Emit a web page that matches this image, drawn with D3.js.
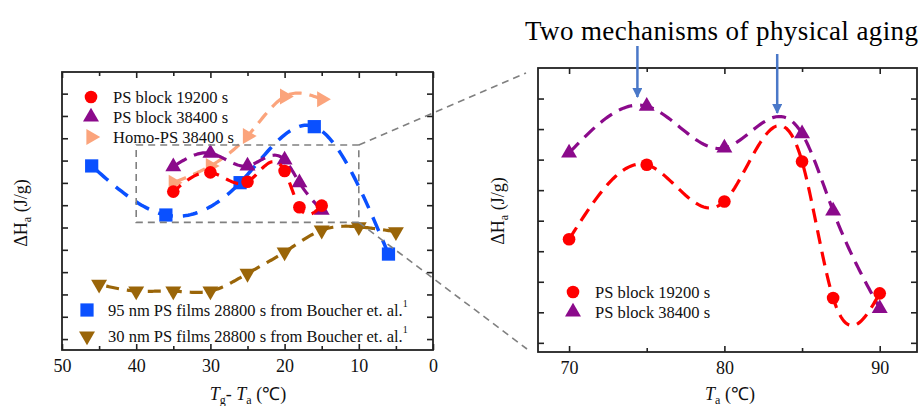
<!DOCTYPE html>
<html>
<head>
<meta charset="utf-8">
<script src="https://cdn.jsdelivr.net/npm/d3@7"></script>
<style>
  body { margin: 0; background: #fff; }
  svg { display: block; font-family: "Liberation Serif", "Times New Roman", serif; }
</style>
</head>
<body>
<script>
// ---- left panel data (Tg - Ta, arbitrary ΔHa units) ----
const blockTg = [35, 30, 25, 20, 18, 15];
const block19200 = [6.61, 7.47, 7.05, 7.53, 5.91, 5.98];
const block38400 = [7.73, 8.33, 7.76, 8.03, 7.01, 5.78];
const homoTg = [35, 30, 25, 20, 15];
const homo38400 = [7.01, 7.76, 9.10, 10.87, 10.75];
const film95Tg = [46, 36, 26, 16, 6];
const film95 = [7.76, 5.56, 7.01, 9.52, 3.81];
const film30Tg = [45, 40, 35, 30, 25, 20, 15, 10, 5];
const film30 = [2.45, 2.15, 2.15, 2.15, 2.94, 3.90, 4.88, 5.03, 4.81];
const zoomBoxX = [40, 10];
const zoomBoxY = [5.23, 8.70];

// ---- right panel data (Ta) ----
const ta = [70, 75, 80, 85, 87, 90];
const zoom19200 = [3.39, 5.83, 4.63, 5.94, 1.47, 1.62];
const zoom38400 = [6.22, 7.75, 6.38, 6.85, 4.32, 1.13];
const arrowTa = [74.4, 83.4];

const leftXTicks = [50, 40, 30, 20, 10, 0];
const rightXTicks = [70, 80, 90];

const width = 921, height = 406;
const svg = d3.select('body').append('svg')
  .attr('width', width)
  .attr('height', height);

const L = { left: 62, right: 433, top: 72, bottom: 350 };
const R = { left: 538, right: 917, top: 68, bottom: 352 };

const xL = d3.scaleLinear().domain([50, 0]).range([L.left, L.right]);
const yL = d3.scaleLinear().domain([-0.49, 11.97]).range([L.bottom, L.top]);
const xR = d3.scaleLinear().domain([68, 92.4]).range([R.left, R.right]);
const yR = d3.scaleLinear().domain([-0.3, 9]).range([R.bottom, R.top]);

const colors = {
  red: '#ff0000',
  purple: '#8b0a8b',
  orange: '#fba47c',
  blue: '#0a50ff',
  brown: '#9a6508',
  arrow: '#4a78c8',
  grey: '#808080'
};

svg.append('defs').selectAll('clipPath')
  .data([['clipL', L], ['clipR', R]])
  .enter().append('clipPath')
  .attr('id', (d) => d[0])
  .append('rect')
  .attr('x', (d) => d[1].left)
  .attr('y', (d) => d[1].top)
  .attr('width', (d) => d[1].right - d[1].left)
  .attr('height', (d) => d[1].bottom - d[1].top);

function drawAxes(box, x, y, xMajor, xMinor, yTicks) {
  const g = svg.append('g');
  const style = (a) => {
    a.select('.domain').remove();
    a.selectAll('line').attr('stroke', '#222').attr('stroke-width', 1.6);
  };
  g.append('g')
    .attr('transform', `translate(0, ${box.bottom})`)
    .call(d3.axisBottom(x).tickValues(xMajor).tickSizeInner(-6).tickSizeOuter(0).tickPadding(9).tickFormat(d3.format('d')))
    .call(style)
    .call((a) => a.selectAll('text').attr('font-size', 18).attr('fill', '#111').attr('font-family', 'Liberation Serif'));
  g.append('g')
    .attr('transform', `translate(0, ${box.bottom})`)
    .call(d3.axisBottom(x).tickValues(xMinor).tickSizeInner(-4).tickSizeOuter(0).tickFormat(''))
    .call(style);
  g.append('g')
    .attr('transform', `translate(0, ${box.top})`)
    .call(d3.axisTop(x).tickValues(xMajor).tickSizeInner(-6).tickSizeOuter(0).tickFormat(''))
    .call(style);
  g.append('g')
    .attr('transform', `translate(0, ${box.top})`)
    .call(d3.axisTop(x).tickValues(xMinor).tickSizeInner(-4).tickSizeOuter(0).tickFormat(''))
    .call(style);
  g.append('g')
    .attr('transform', `translate(${box.left}, 0)`)
    .call(d3.axisLeft(y).tickValues(yTicks).tickSizeInner(-6).tickSizeOuter(0).tickFormat(''))
    .call(style);
  g.append('g')
    .attr('transform', `translate(${box.right}, 0)`)
    .call(d3.axisRight(y).tickValues(yTicks).tickSizeInner(-6).tickSizeOuter(0).tickFormat(''))
    .call(style);
  g.append('rect')
    .attr('x', box.left).attr('y', box.top)
    .attr('width', box.right - box.left).attr('height', box.bottom - box.top)
    .attr('fill', 'none').attr('stroke', '#222').attr('stroke-width', 1.8);
}

drawAxes(L, xL, yL, leftXTicks, [45, 35, 25, 15, 5], d3.range(0, 12));
drawAxes(R, xR, yR, rightXTicks, [75, 85], d3.range(0, 9));

const symbols = {
  circle: { type: d3.symbolCircle, size: 125, rot: 0 },
  up: { type: d3.symbolTriangle, size: 110, rot: 0 },
  right: { type: d3.symbolTriangle, size: 110, rot: 90 },
  down: { type: d3.symbolTriangle, size: 110, rot: 180 },
  square: { type: d3.symbolSquare, size: 175, rot: 0 }
};

// natural cubic spline y(x) through the data points, used only to draw the smooth dashed line
function splinePath(xs, ys) {
  const pts = xs.map((d, i) => [d, ys[i]]).sort((a, b) => a[0] - b[0]);
  const n = pts.length;
  const h = d3.range(n - 1).map((i) => pts[i + 1][0] - pts[i][0]);
  const m = new Array(n).fill(0);
  if (n > 2) {
    const a = [], b = [], c = [], r = [];
    for (let i = 1; i < n - 1; i++) {
      a.push(h[i - 1]);
      b.push(2 * (h[i - 1] + h[i]));
      c.push(h[i]);
      r.push(6 * ((pts[i + 1][1] - pts[i][1]) / h[i] - (pts[i][1] - pts[i - 1][1]) / h[i - 1]));
    }
    const k = b.length;
    for (let i = 1; i < k; i++) {
      const w = a[i] / b[i - 1];
      b[i] -= w * c[i - 1];
      r[i] -= w * r[i - 1];
    }
    const sol = new Array(k);
    sol[k - 1] = r[k - 1] / b[k - 1];
    for (let i = k - 2; i >= 0; i--) sol[i] = (r[i] - c[i] * sol[i + 1]) / b[i];
    for (let i = 0; i < k; i++) m[i + 1] = sol[i];
  }
  const out = [];
  for (let i = 0; i < n - 1; i++) {
    const steps = 30;
    for (let s = 0; s <= steps; s++) {
      if (i > 0 && s === 0) continue;
      const t = s / steps;
      const xv = pts[i][0] + t * h[i];
      const A = 1 - t, B = t;
      const yv = A * pts[i][1] + B * pts[i + 1][1] +
        ((A * A * A - A) * m[i] + (B * B * B - B) * m[i + 1]) * h[i] * h[i] / 6;
      out.push([xv, yv]);
    }
  }
  return out;
}

function drawSeries(xs, ys, x, y, color, sym, dash, lw, clip) {
  const pts = xs.map((d, i) => [d, ys[i]]);
  const line = d3.line().x((d) => x(d[0])).y((d) => y(d[1]));
  svg.append('path')
    .datum(splinePath(xs, ys))
    .attr('clip-path', `url(#${clip})`)
    .attr('d', line)
    .attr('fill', 'none')
    .attr('stroke', color)
    .attr('stroke-width', lw)
    .attr('stroke-dasharray', dash);
  const s = symbols[sym];
  svg.append('g').selectAll('path')
    .data(pts)
    .enter().append('path')
    .attr('d', d3.symbol().type(s.type).size(s.size))
    .attr('transform', (d) => `translate(${x(d[0])}, ${y(d[1])}) rotate(${s.rot})`)
    .attr('fill', color);
}

// left panel
drawSeries(film95Tg, film95, xL, yL, colors.blue, 'square', '15,10', 3.5, 'clipL');
drawSeries(film30Tg, film30, xL, yL, colors.brown, 'down', '13,8', 3.2, 'clipL');
drawSeries(homoTg, homo38400, xL, yL, colors.orange, 'right', '13,8', 3.2, 'clipL');
drawSeries(blockTg, block38400, xL, yL, colors.purple, 'up', '13,8', 3.2, 'clipL');
drawSeries(blockTg, block19200, xL, yL, colors.red, 'circle', '13,8', 3.2, 'clipL');

// zoom box and connectors
svg.append('rect')
  .attr('x', xL(zoomBoxX[0])).attr('y', yL(zoomBoxY[1]))
  .attr('width', xL(zoomBoxX[1]) - xL(zoomBoxX[0]))
  .attr('height', yL(zoomBoxY[0]) - yL(zoomBoxY[1]))
  .attr('fill', 'none').attr('stroke', colors.grey)
  .attr('stroke-width', 1.6).attr('stroke-dasharray', '7,5');
svg.append('line')
  .attr('x1', xL(zoomBoxX[1])).attr('y1', yL(zoomBoxY[1]))
  .attr('x2', R.left - 12).attr('y2', R.top + 5)
  .attr('stroke', colors.grey).attr('stroke-width', 1.6).attr('stroke-dasharray', '7,5');
svg.append('line')
  .attr('x1', xL(zoomBoxX[1])).attr('y1', yL(zoomBoxY[0]))
  .attr('x2', R.left - 11).attr('y2', R.bottom - 3)
  .attr('stroke', colors.grey).attr('stroke-width', 1.6).attr('stroke-dasharray', '7,5');

// right panel
drawSeries(ta, zoom38400, xR, yR, colors.purple, 'up', '14,8', 3.2, 'clipR');
drawSeries(ta, zoom19200, xR, yR, colors.red, 'circle', '14,8', 3.2, 'clipR');

// legends
function legendRow(x, yPos, tx, sym, color, label, fs, sup) {
  const s = symbols[sym];
  svg.append('path')
    .attr('d', d3.symbol().type(s.type).size(s.size)())
    .attr('transform', `translate(${x}, ${yPos}) rotate(${s.rot})`)
    .attr('fill', color);
  const t = svg.append('text')
    .attr('x', tx).attr('y', yPos + 6)
    .attr('font-size', fs).attr('fill', '#111')
    .text(label);
  if (sup) {
    t.append('tspan').attr('dy', -9).attr('font-size', 10).text(sup);
  }
}
legendRow(91, 97, 113, 'circle', colors.red, 'PS block 19200 s', 16.5);
legendRow(91, 117, 113, 'up', colors.purple, 'PS block 38400 s', 16.5);
legendRow(91, 137, 113, 'right', colors.orange, 'Homo-PS 38400 s', 16.5);
legendRow(87, 310, 108, 'square', colors.blue, '95 nm PS films 28800 s from Boucher et. al.', 16.5, '1');
legendRow(87, 336, 108, 'down', colors.brown, '30 nm PS films 28800 s from Boucher et. al.', 16.5, '1');
legendRow(573, 292, 595, 'circle', colors.red, 'PS block 19200 s', 16.5);
legendRow(573, 312, 595, 'up', colors.purple, 'PS block 38400 s', 16.5);

// axis labels
function yLabel(cx, cy) {
  const t = svg.append('text')
    .attr('transform', `translate(${cx}, ${cy}) rotate(-90)`)
    .attr('text-anchor', 'middle')
    .attr('font-size', 18).attr('fill', '#111');
  t.append('tspan').text('ΔH');
  t.append('tspan').attr('font-size', 12).attr('dy', 4).text('a');
  t.append('tspan').attr('dy', -4).text(' (J/g)');
}
yLabel(27, 213);
yLabel(504, 211);

const xl = svg.append('text')
  .attr('x', 248).attr('y', 400)
  .attr('text-anchor', 'middle')
  .attr('font-size', 18).attr('fill', '#111');
xl.append('tspan').attr('font-style', 'italic').text('T');
xl.append('tspan').attr('font-size', 12).attr('dy', 4).text('g');
xl.append('tspan').attr('dy', -4).text('- ');
xl.append('tspan').attr('font-style', 'italic').text('T');
xl.append('tspan').attr('font-size', 12).attr('dy', 4).text('a');
xl.append('tspan').attr('dy', -4).text(' (℃)');

const xr = svg.append('text')
  .attr('x', 730).attr('y', 400)
  .attr('text-anchor', 'middle')
  .attr('font-size', 18).attr('fill', '#111');
xr.append('tspan').attr('font-style', 'italic').text('T');
xr.append('tspan').attr('font-size', 12).attr('dy', 4).text('a');
xr.append('tspan').attr('dy', -4).text(' (℃)');

// title and arrows
svg.append('text')
  .attr('x', 525).attr('y', 40)
  .attr('font-size', 27).attr('fill', '#000')
  .attr('textLength', 393)
  .text('Two mechanisms of physical aging');

svg.append('defs').append('marker')
  .attr('id', 'head')
  .attr('viewBox', '0 0 10 10')
  .attr('refX', 9).attr('refY', 5)
  .attr('markerWidth', 4).attr('markerHeight', 4)
  .attr('orient', 'auto')
  .append('path').attr('d', 'M0,0L10,5L0,10Z').attr('fill', colors.arrow);

svg.append('g').selectAll('line')
  .data(arrowTa)
  .enter().append('line')
  .attr('x1', (d) => xR(d)).attr('x2', (d) => xR(d))
  .attr('y1', (d, i) => i === 0 ? 46 : 54)
  .attr('y2', (d, i) => i === 0 ? 97 : 113)
  .attr('stroke', colors.arrow).attr('stroke-width', 2.5)
  .attr('marker-end', 'url(#head)');
</script>
</body>
</html>
